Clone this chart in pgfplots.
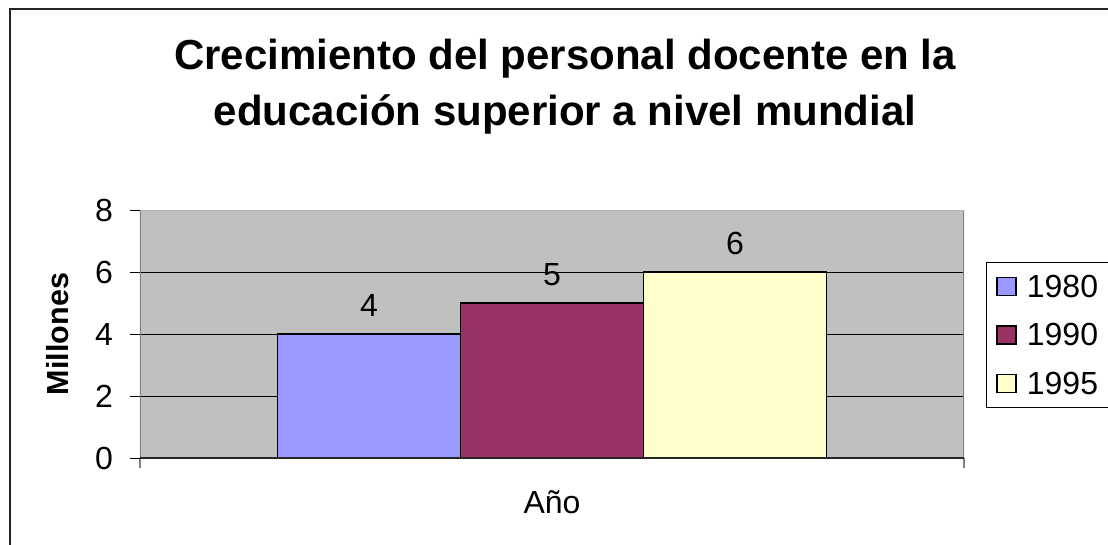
\documentclass[border=0pt]{standalone}
\usepackage{fontspec}
\setmainfont{Liberation Sans}
\usepackage{pgfplots}
\pgfplotsset{compat=1.18}
\definecolor{cA}{HTML}{9999FF}
\definecolor{cB}{HTML}{993366}
\definecolor{cC}{HTML}{FFFFCC}
\definecolor{bgG}{HTML}{C0C0C0}
\definecolor{bdG}{HTML}{808080}
\begin{document}
\begin{tikzpicture}
\begin{axis}[
  scale only axis,
  width=824bp, height=248bp,
  xmin=-0.5, xmax=0.5,
  ymin=0, ymax=8,
  ytick={0,2,4,6,8},
  xtick={-0.5,0.5},
  xticklabels={},
  xtick pos=bottom,
  ytick pos=left,
  ybar=0pt,
  bar width=0.2221,
  axis line style={draw=none},
  axis background/.style={fill=bgG},
  ymajorgrids,
  grid style={black, line width=0.8bp},
  tick align=outside,
  major tick length=10bp,
  x tick style={bdG, line width=1.5bp},
  y tick style={black, line width=0.8bp},
  /pgf/number format/assume math mode=true,
  ticklabel style={font=\fontsize{32bp}{38bp}\selectfont},
  yticklabel style={inner sep=0pt, xshift=-17bp},
  ylabel={\bfseries Millones},
  ylabel style={font=\fontsize{30.5bp}{36bp}\selectfont, at={(axis description cs:-0.0995,0.5)}, anchor=center},
  xlabel={Año},
  xlabel style={font=\fontsize{32bp}{38bp}\selectfont, at={(axis description cs:0.5,-0.2218)}, anchor=base},
  nodes near coords,
  every node near coord/.append style={font=\fontsize{32bp}{38bp}\selectfont, anchor=base, yshift=18bp, inner sep=0pt, text=black},
  legend style={at={(axis description cs:1.0267,0.790)}, anchor=north west, draw=black, line width=0.8bp, fill=white,
    font=\fontsize{32bp}{38bp}\selectfont, inner xsep=10bp, inner ysep=13bp, row sep=26.5bp, column sep=10bp,
    nodes={inner sep=0pt, text height=22bp, text depth=0bp}},
  legend cell align=left,
  legend image code/.code={\draw[#1, line width=1.5bp] (0bp,-9bp) rectangle (19bp,9bp);},
]
\addplot[fill=cA, draw=black, line width=1.5bp] coordinates {(0,4)};
\addplot[fill=cB, draw=black, line width=1.5bp] coordinates {(0,5)};
\addplot[fill=cC, draw=black, line width=1.5bp] coordinates {(0,6)};
\legend{1980,1990,1995}
\draw[bdG, line width=1.5bp] (rel axis cs:0,0) -- (rel axis cs:0,1);
\draw[bdG, line width=2bp] (rel axis cs:1,0) -- (rel axis cs:1,1);
\draw[bgG!80!gray, line width=1.5bp] (rel axis cs:0,1) -- (rel axis cs:1,1);
\draw[black!85, line width=1.5bp] (rel axis cs:0,0) -- (rel axis cs:1,0);
\end{axis}
\node[font=\fontsize{42bp}{50bp}\selectfont\bfseries, anchor=base] at (425bp,388bp) {Crecimiento del personal docente en la};
\node[font=\fontsize{42bp}{50bp}\selectfont\bfseries, anchor=base] at (425bp,332bp) {educación superior a nivel mundial};
\draw[black!85, line width=1.5bp] (-130bp,-87bp) -- (-130bp,449bp) -- (968bp,449bp);
\pgfresetboundingbox
\useasboundingbox (-140bp,-87bp) rectangle (968bp,458bp);
\end{tikzpicture}
\end{document}
